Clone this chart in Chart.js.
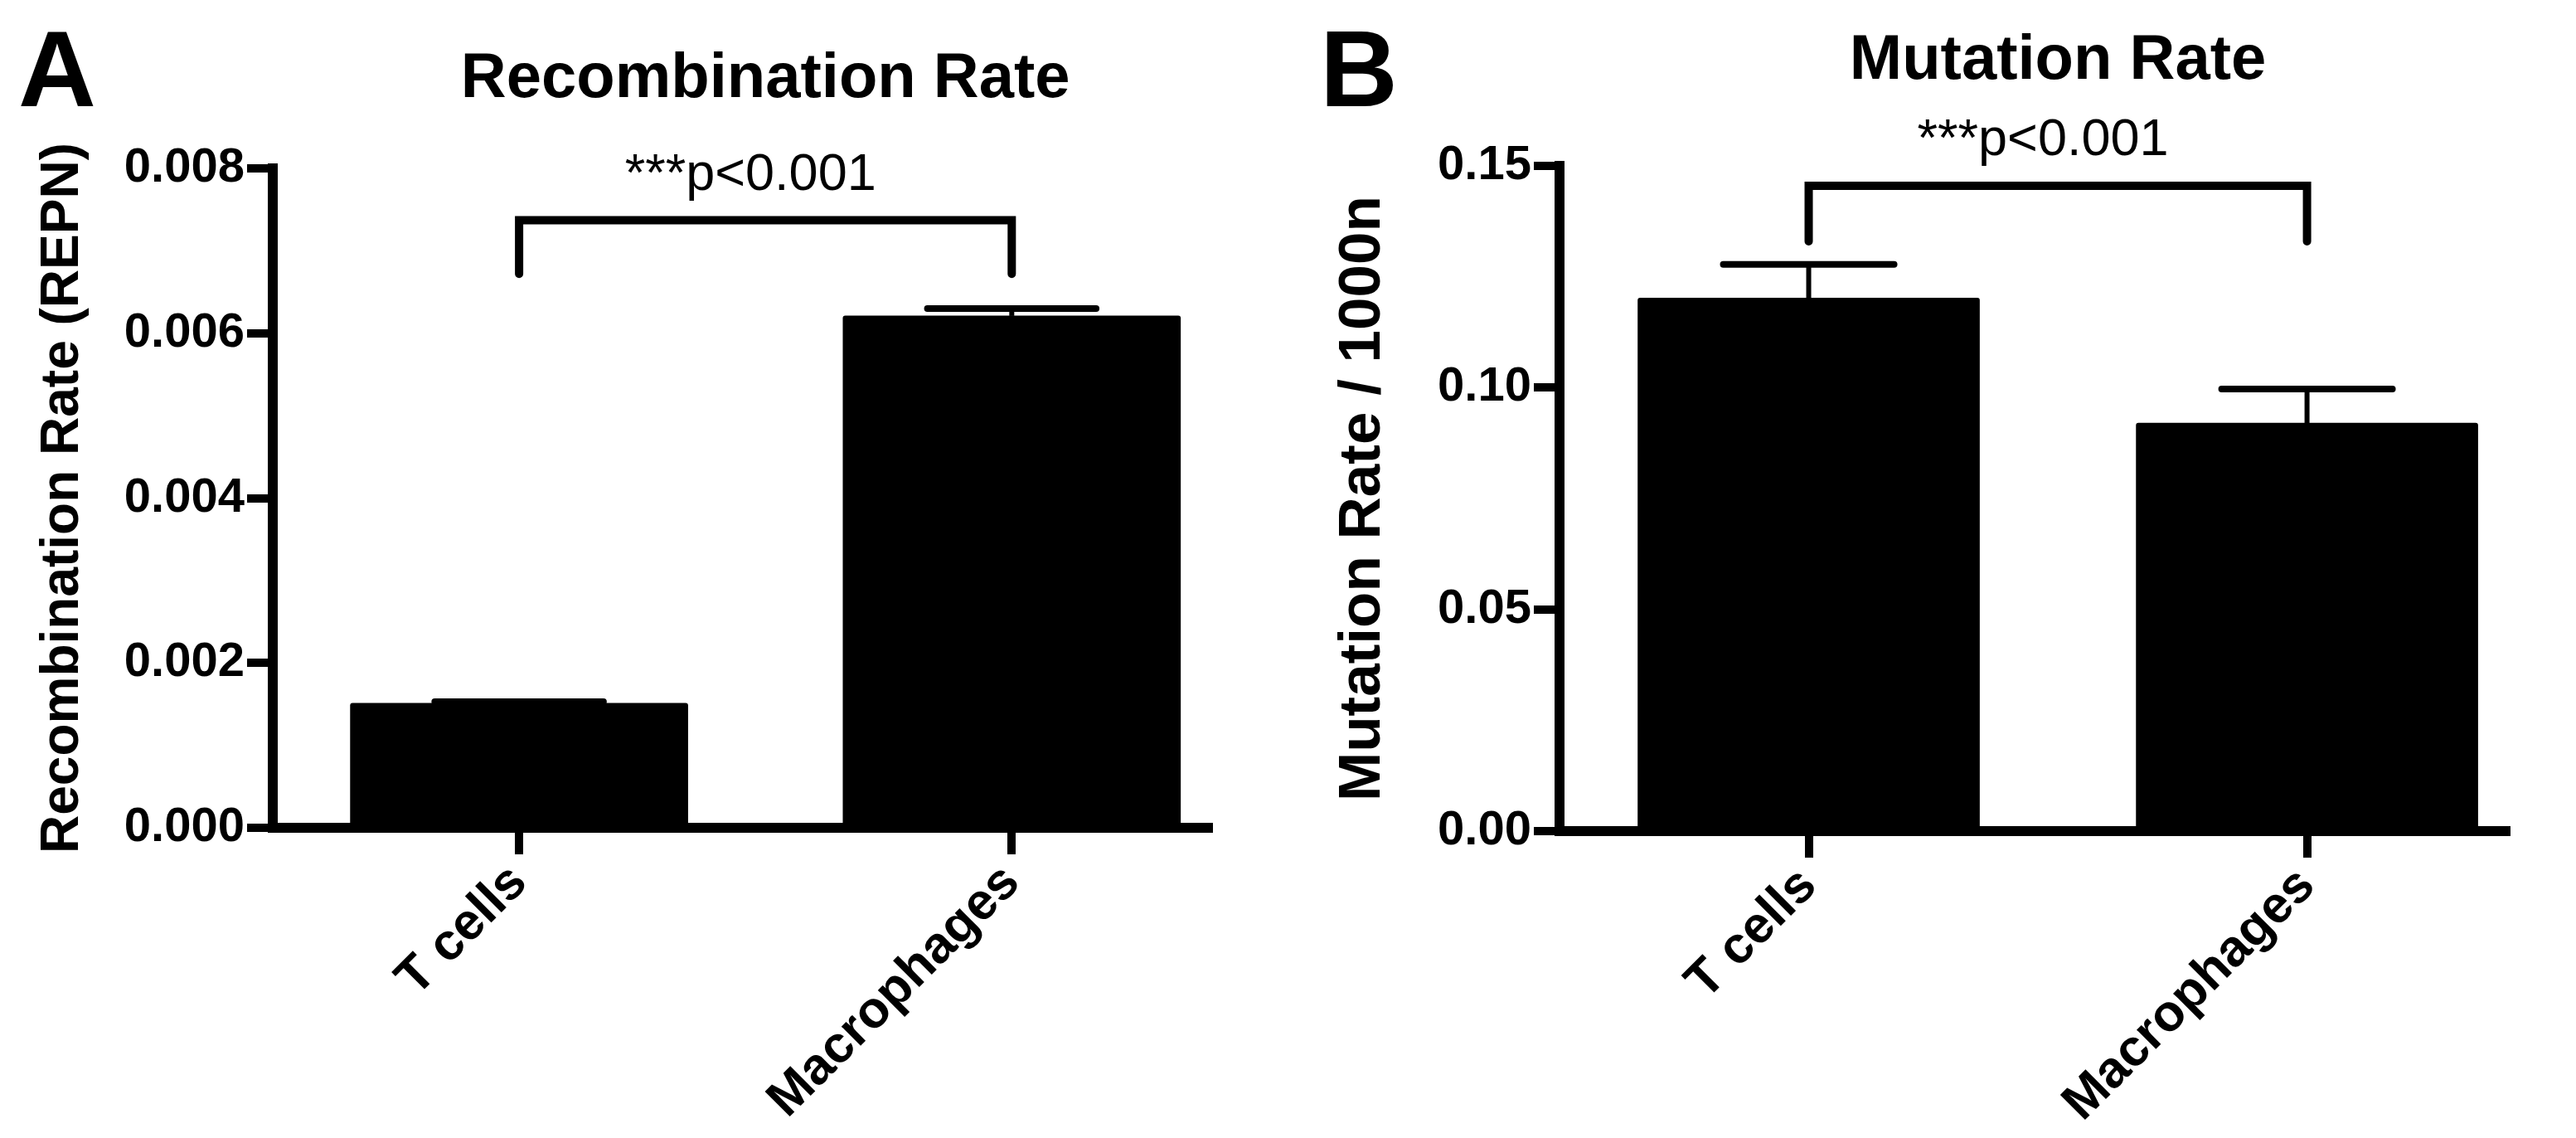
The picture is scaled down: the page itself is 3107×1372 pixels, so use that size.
<!DOCTYPE html>
<html>
<head>
<meta charset="utf-8">
<script src="https://cdn.jsdelivr.net/npm/chart.js@4.4.0/dist/chart.umd.min.js"></script>
<style>
  html, body { margin: 0; padding: 0; background: #fff; }
  #wrap { position: relative; width: 3107px; height: 1372px; }
  canvas { position: absolute; top: 0; }
</style>
</head>
<body>
<div id="wrap">
  <canvas id="panelA" width="1550" height="1372" style="left:0px"></canvas>
  <canvas id="panelB" width="1557" height="1372" style="left:1550px"></canvas>
</div>
<script>
// data
var categories = ['T cells', 'Macrophages'];

var recombRate = [0.00151, 0.00621];
var recombErr = [0.00002, 0.00009];
var recombTicks = ['0.000', '0.002', '0.004', '0.006', '0.008'];

var mutationRate = [0.1202, 0.0920];
var mutationErr = [0.0076, 0.0077];
var mutationTicks = ['0.00', '0.05', '0.10', '0.15'];

var pLabel = '***p<0.001';

Chart.defaults.font.family = '"Liberation Sans", Arial, sans-serif';
Chart.defaults.color = '#000';

// error bars, significance bracket, titles and panel letters
var panelDecor = {
    id: 'panelDecor',
    afterDraw: function(chart, args, opts) {
        var ctx = chart.ctx;
        var xs = chart.scales.x, ys = chart.scales.y;
        var meta = chart.getDatasetMeta(0);
        ctx.save();
        ctx.fillStyle = '#000';
        ctx.strokeStyle = '#000';

        meta.data.forEach(function(bar, i) {
            var top = ys.getPixelForValue(opts.values[i] + opts.errors[i]);
            var half = bar.width / 4;
            ctx.lineCap = 'butt';
            ctx.lineWidth = 6;
            ctx.beginPath();
            ctx.moveTo(bar.x, bar.y);
            ctx.lineTo(bar.x, top);
            ctx.stroke();
            ctx.lineCap = 'round';
            ctx.lineWidth = 8;
            ctx.beginPath();
            ctx.moveTo(bar.x - half, top);
            ctx.lineTo(bar.x + half, top);
            ctx.stroke();
        });

        var x1 = xs.getPixelForValue(1), x2 = xs.getPixelForValue(2);
        var yb = ys.getPixelForValue(opts.bracket[0]);
        var yl = ys.getPixelForValue(opts.bracket[1]);
        ctx.lineWidth = 10;
        ctx.lineCap = 'round';
        ctx.lineJoin = 'miter';
        ctx.beginPath();
        ctx.moveTo(x1, yl);
        ctx.lineTo(x1, yb);
        ctx.lineTo(x2, yb);
        ctx.lineTo(x2, yl);
        ctx.stroke();

        ctx.textAlign = 'center';
        ctx.textBaseline = 'alphabetic';
        ctx.font = '63px "Liberation Sans", Arial, sans-serif';
        ctx.fillText(pLabel, (x1 + x2) / 2 - 18, yb - 37);

        ctx.font = 'bold 76px "Liberation Sans", Arial, sans-serif';
        ctx.fillText(opts.title, (x1 + x2) / 2, opts.titleY);

        ctx.textAlign = 'left';
        ctx.font = 'bold 130px "Liberation Sans", Arial, sans-serif';
        ctx.fillText(opts.letter, opts.letterX, 128);
        ctx.restore();
    }
};

function makePanel(id, cfg) {
    return new Chart(document.getElementById(id), {
        type: 'bar',
        data: {
            datasets: [{
                data: cfg.values.map(function(v, i) { return {x: i + 1, y: v}; }),
                backgroundColor: '#000',
                borderWidth: 0,
                borderRadius: 3,
                barThickness: cfg.barPx
            }]
        },
        options: {
            responsive: false,
            animation: false,
            devicePixelRatio: 1,
            layout: { padding: cfg.padding },
            plugins: {
                legend: { display: false },
                tooltip: { enabled: false },
                panelDecor: {
                    values: cfg.values, errors: cfg.errors, bracket: cfg.bracket,
                    title: cfg.title, titleY: cfg.titleY, letter: cfg.letter, letterX: cfg.letterX
                }
            },
            scales: {
                x: {
                    type: 'linear',
                    min: 0.5,
                    max: 2.4,
                    offset: false,
                    afterBuildTicks: function(s) { s.ticks = [{value: 1}, {value: 2}]; },
                    afterFit: function(s) { s.height = 370; },
                    grid: { display: true, drawOnChartArea: false, offset: false, tickLength: 32, tickWidth: 10, tickColor: '#000', lineWidth: 10, color: '#000' },
                    border: { display: true, width: 12, color: '#000' },
                    ticks: {
                        autoSkip: false, minRotation: 45, maxRotation: 45, padding: -2,
                        font: { size: 62, weight: 'bold' },
                        callback: function(v) { return categories[Math.round(v) - 1]; }
                    }
                },
                y: {
                    min: 0,
                    max: cfg.max,
                    ticks: {
                        stepSize: cfg.step, padding: 3,
                        font: { size: 58, weight: 'bold' },
                        callback: function(v, i) { return cfg.tickLabels[i]; }
                    },
                    afterFit: function(s) { s.width = cfg.yWidth; },
                    grid: { display: true, drawOnChartArea: false, tickLength: 31, tickWidth: 10, tickColor: '#000', lineWidth: 10, color: '#000' },
                    border: { display: true, width: 12, color: '#000' },
                    title: {
                        display: true, text: cfg.yTitle,
                        font: { size: cfg.yTitleSize, weight: 'bold' },
                        padding: { top: cfg.yTitlePad, bottom: 0 }
                    }
                }
            }
        },
        plugins: [panelDecor]
    });
}

makePanel('panelA', {
    values: recombRate, errors: recombErr, tickLabels: recombTicks,
    max: 0.008, step: 0.002, bracket: [0.00737, 0.00672],
    title: 'Recombination Rate', titleY: 117, letter: 'A', letterX: 22,
    yTitle: 'Recombination Rate (REPN)', yTitleSize: 64, yTitlePad: 38,
    yWidth: 329, barPx: 407,
    padding: { left: 0, top: 203, right: 92, bottom: 4 }
});

makePanel('panelB', {
    values: mutationRate, errors: mutationErr, tickLabels: mutationTicks,
    max: 0.15, step: 0.05, bracket: [0.1455, 0.133],
    title: 'Mutation Rate', titleY: 95, letter: 'B', letterX: 42,
    yTitle: 'Mutation Rate / 1000n', yTitleSize: 71, yTitlePad: 52,
    yWidth: 331, barPx: 412,
    padding: { left: 0, top: 200, right: 84, bottom: 0 }
});
</script>
</body>
</html>
